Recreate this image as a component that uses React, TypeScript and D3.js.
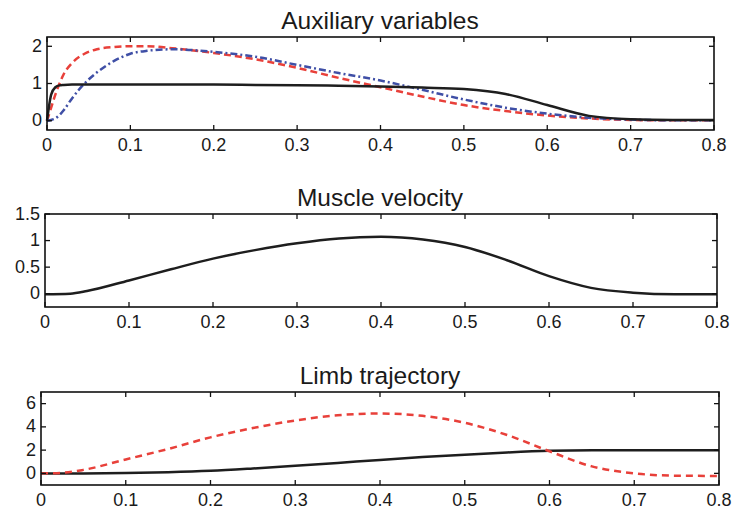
import React, { useEffect, useRef } from 'react';
import * as d3 from 'd3';

// time samples + values
const auxT = [0, 0.005, 0.01, 0.015, 0.02, 0.03, 0.045, 0.06, 0.08, 0.1, 0.12, 0.15, 0.2, 0.25, 0.3, 0.35, 0.4, 0.45, 0.5, 0.55, 0.6, 0.65, 0.7, 0.75, 0.8];
const auxBlack = [0, 0.7, 0.9, 0.95, 0.96, 0.97, 0.97, 0.97, 0.97, 0.97, 0.97, 0.97, 0.97, 0.96, 0.95, 0.94, 0.92, 0.89, 0.85, 0.72, 0.42, 0.13, 0.04, 0.02, 0.02];
const auxRed = [0, 0.35, 0.7, 1.0, 1.25, 1.55, 1.8, 1.92, 1.98, 2.0, 2.0, 1.95, 1.82, 1.65, 1.42, 1.15, 0.9, 0.65, 0.42, 0.26, 0.14, 0.06, 0.02, 0.01, 0.01];
const auxBlue = [0, 0.02, 0.06, 0.15, 0.28, 0.6, 1.0, 1.3, 1.6, 1.8, 1.88, 1.92, 1.85, 1.72, 1.5, 1.28, 1.08, 0.83, 0.57, 0.35, 0.19, 0.08, 0.03, 0.01, 0.01];

const velT = [0, 0.03, 0.05, 0.1, 0.15, 0.2, 0.25, 0.3, 0.35, 0.4, 0.45, 0.5, 0.55, 0.6, 0.65, 0.7, 0.75, 0.8];
const velocity = [-0.01, 0, 0.05, 0.25, 0.46, 0.66, 0.82, 0.95, 1.04, 1.07, 1.02, 0.88, 0.63, 0.33, 0.11, 0.02, -0.01, -0.01];

const limbT = [0, 0.025, 0.05, 0.1, 0.15, 0.2, 0.25, 0.3, 0.35, 0.4, 0.45, 0.5, 0.55, 0.6, 0.65, 0.7, 0.75, 0.8];
const limbBlack = [0, 0, 0, 0.03, 0.1, 0.22, 0.42, 0.65, 0.9, 1.16, 1.4, 1.6, 1.8, 1.95, 2.0, 2.0, 2.0, 2.0];
const limbRed = [0, 0.05, 0.3, 1.2, 2.1, 3.1, 3.9, 4.55, 5.0, 5.15, 4.95, 4.35, 3.3, 1.9, 0.6, 0.0, -0.2, -0.22];

const xTicks = [0, 0.1, 0.2, 0.3, 0.4, 0.5, 0.6, 0.7, 0.8];

type Series = { t: number[]; v: number[]; color: string; dash: string | null };

type Panel = {
  title: string;
  left: number; right: number; top: number; bottom: number;
  yDomain: [number, number];
  yTicks: number[];
  series: Series[];
};

const panels: Panel[] = [
  {
    title: 'Auxiliary variables', left: 47, right: 714, top: 37, bottom: 130,
    yDomain: [-0.25, 2.25], yTicks: [0, 1, 2],
    series: [
      { t: auxT, v: auxRed, color: '#e8403a', dash: '7,4' },
      { t: auxT, v: auxBlue, color: '#3f4fa6', dash: '7,3,2,3' },
      { t: auxT, v: auxBlack, color: '#1e1e1e', dash: null },
    ],
  },
  {
    title: 'Muscle velocity', left: 45, right: 717, top: 214, bottom: 307,
    yDomain: [-0.25, 1.5], yTicks: [0, 0.5, 1, 1.5],
    series: [{ t: velT, v: velocity, color: '#1e1e1e', dash: null }],
  },
  {
    title: 'Limb trajectory', left: 41, right: 719, top: 392, bottom: 485,
    yDomain: [-1, 7], yTicks: [0, 2, 4, 6],
    series: [
      { t: limbT, v: limbBlack, color: '#1e1e1e', dash: null },
      { t: limbT, v: limbRed, color: '#e8403a', dash: '7,5' },
    ],
  },
];

export default function App() {
  const ref = useRef<SVGSVGElement>(null);

  useEffect(() => {
    const svg = d3.select(ref.current);
    svg.selectAll('*').remove();
    const font = '"Liberation Sans", Arial, Helvetica, sans-serif';

    panels.forEach((p) => {
      const x = d3.scaleLinear().domain([0, 0.8]).range([p.left, p.right]);
      const y = d3.scaleLinear().domain(p.yDomain).range([p.bottom, p.top]);
      const g = svg.append('g');

      // title
      g.append('text')
        .attr('x', 380).attr('y', p.top - 8)
        .attr('text-anchor', 'middle')
        .style('font-family', font).style('font-size', '24.5px')
        .attr('fill', '#1a1a1a')
        .text(p.title);

      // lines
      p.series.forEach((s) => {
        const pts = s.t.map((t, i) => [t, s.v[i]] as [number, number]);
        const path = g.append('path')
          .datum(pts)
          .attr('d', d3.line<[number, number]>()
            .x(d => x(d[0]))
            .y(d => y(d[1]))
            .curve(d3.curveMonotoneX))
          .attr('fill', 'none')
          .attr('stroke', s.color)
          .attr('stroke-width', 2.5);
        if (s.dash) path.attr('stroke-dasharray', s.dash);
      });

      // ticks inward on all sides
      const tk = 5;
      xTicks.forEach((t) => {
        g.append('line').attr('x1', x(t)).attr('x2', x(t)).attr('y1', p.bottom).attr('y2', p.bottom - tk).attr('stroke', '#111').attr('stroke-width', 1.3);
        g.append('line').attr('x1', x(t)).attr('x2', x(t)).attr('y1', p.top).attr('y2', p.top + tk).attr('stroke', '#111').attr('stroke-width', 1.3);
        g.append('text')
          .attr('x', x(t)).attr('y', p.bottom + 20.5)
          .attr('text-anchor', 'middle')
          .style('font-family', font).style('font-size', '18px')
          .attr('fill', '#1a1a1a')
          .text(String(t));
      });
      p.yTicks.forEach((v) => {
        g.append('line').attr('x1', p.left).attr('x2', p.left + tk).attr('y1', y(v)).attr('y2', y(v)).attr('stroke', '#111').attr('stroke-width', 1.3);
        g.append('line').attr('x1', p.right).attr('x2', p.right - tk).attr('y1', y(v)).attr('y2', y(v)).attr('stroke', '#111').attr('stroke-width', 1.3);
        g.append('text')
          .attr('x', p.left - 5).attr('y', y(v) + 5.5)
          .attr('text-anchor', 'end')
          .style('font-family', font).style('font-size', '18px')
          .attr('fill', '#1a1a1a')
          .text(String(v));
      });

      // frame
      g.append('rect')
        .attr('x', p.left).attr('y', p.top)
        .attr('width', p.right - p.left).attr('height', p.bottom - p.top)
        .attr('fill', 'none').attr('stroke', '#111').attr('stroke-width', 1.6);
    });
  }, []);

  return (
    <svg ref={ref} width={732} height={510}
      style={{ position: 'absolute', left: 0, top: 0, background: '#fff' }} />
  );
}
